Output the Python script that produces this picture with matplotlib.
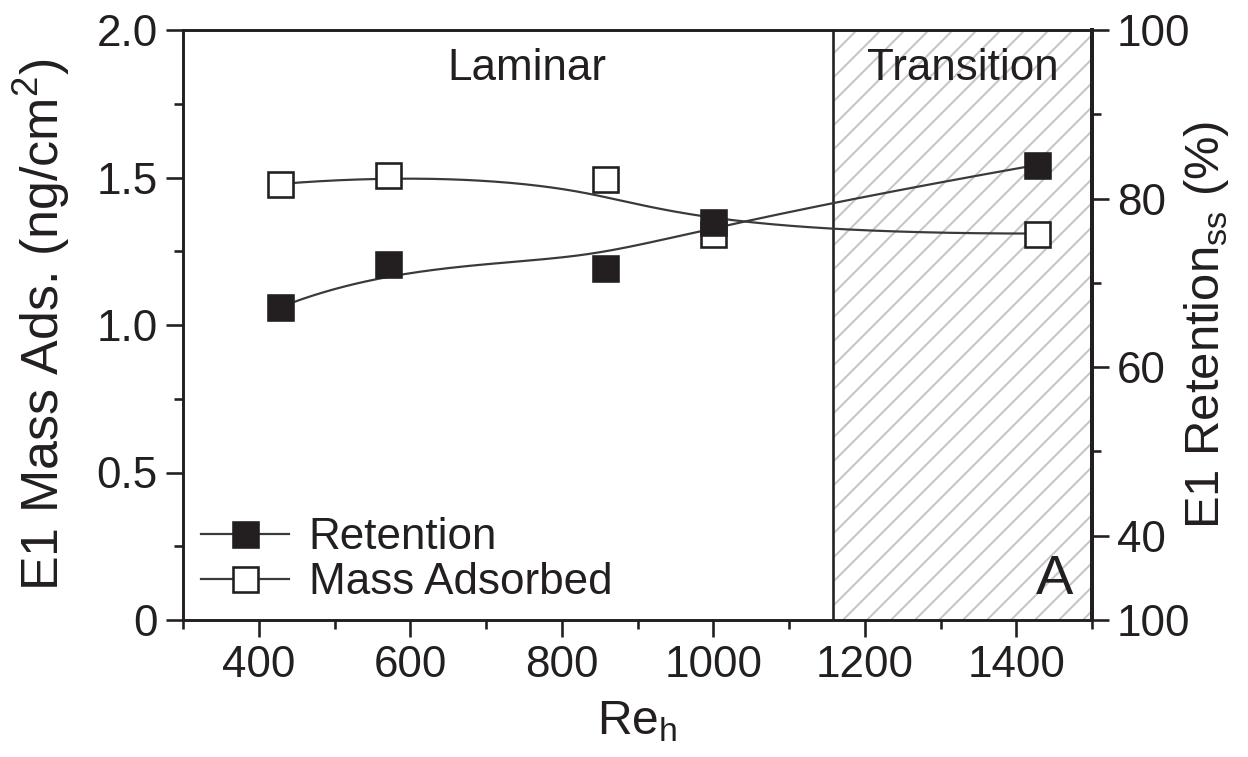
import numpy as np
import matplotlib
matplotlib.use("Agg")
import matplotlib.pyplot as plt
from matplotlib.ticker import FixedLocator, MultipleLocator, FixedFormatter
from matplotlib.lines import Line2D
from matplotlib.collections import LineCollection

# ---- data ----
re_h = [428, 571, 857, 1000, 1428]
mass_adsorbed = [1.478, 1.508, 1.495, 1.31, 1.31]      # ng/cm^2 (left axis)
retention = [67.1, 72.2, 71.8, 77.2, 84.0]             # % (right axis)
transition_start = 1158
x_ticks = [400, 600, 800, 1000, 1200, 1400]
left_ticks = [0, 0.5, 1.0, 1.5, 2.0]
left_labels = ["0", "0.5", "1.0", "1.5", "2.0"]
right_ticks = [30, 40, 60, 80, 100]
right_labels = ["100", "40", "60", "80", "100"]

plt.rcParams['font.family'] = ['Liberation Sans', 'DejaVu Sans']
plt.rcParams['mathtext.fontset'] = 'custom'
plt.rcParams['mathtext.rm'] = 'Liberation Sans'

TXT = '#231f20'
FS = 22


def bspline(px, py, n=300, k=3):
    px = np.asarray(px, float); py = np.asarray(py, float)
    m = len(px)
    knots = np.concatenate([[0.0] * k, np.linspace(0, 1, m - k + 1), [1.0] * k])
    t = np.linspace(0, 1, n)
    t[-1] = 1 - 1e-12
    B = np.zeros((n, len(knots) - 1))
    for i in range(len(knots) - 1):
        B[:, i] = (t >= knots[i]) & (t < knots[i + 1])
    for d in range(1, k + 1):
        Bn = np.zeros((n, len(knots) - 1 - d))
        for i in range(len(knots) - 1 - d):
            a = knots[i + d] - knots[i]
            b = knots[i + d + 1] - knots[i + 1]
            term = 0
            if a > 0:
                term = term + (t - knots[i]) / a * B[:, i]
            if b > 0:
                term = term + (knots[i + d + 1] - t) / b * B[:, i + 1]
            Bn[:, i] = term
        B = Bn
    return B @ px, B @ py


W, H = 1248, 757
L, R, T, Bt = 183, 1092, 30, 620
fig = plt.figure(figsize=(W / 144, H / 144), dpi=144)
ax = fig.add_axes([L / W, 1 - Bt / H, (R - L) / W, (Bt - T) / H])
ax2 = ax.twinx()

XMIN, XMAX, YMIN, YMAX = 300, 1500, 0, 2.0
ax.set_xlim(XMIN, XMAX)
ax.set_ylim(YMIN, YMAX)
ax2.set_ylim(30, 100)

# transition region with diagonal hatch
span = ax.axvspan(transition_start, XMAX, facecolor='white', edgecolor='none',
                  linewidth=0, zorder=0)
xpp = (XMAX - XMIN) / (R - L)      # data units per pixel (x)
ypp = (YMAX - YMIN) / (Bt - T)     # data units per pixel (y)
step = 24 * xpp
rise_dx = (Bt - T) * xpp
starts = np.arange(transition_start - rise_dx - step * 2, XMAX + step, step)
segs = [[(x0, YMIN), (x0 + rise_dx, YMAX)] for x0 in starts]
lc = LineCollection(segs, colors='#c6c6c6', linewidths=1.0, zorder=0.5)
ax.add_collection(lc)
lc.set_clip_path(span)
ax.axvline(transition_start, color=TXT, lw=1.3, zorder=1)

# curves
sx, sy = bspline(re_h, mass_adsorbed)
ax.plot(sx, sy, color='#3a3a3a', lw=1.1, zorder=2)
ax.plot(re_h, mass_adsorbed, ls='none', marker='s', ms=12.5, mfc='white',
        mec=TXT, mew=1.3, zorder=3)
rx, ry = bspline(re_h, retention)
ax2.plot(rx, ry, color='#3a3a3a', lw=1.1, zorder=2)
ax2.plot(re_h, retention, ls='none', marker='s', ms=12.5, mfc=TXT,
         mec=TXT, mew=1.3, zorder=3)

# ticks
for a in (ax, ax2):
    a.tick_params(which='major', direction='out', length=8.5, width=1.3,
                  labelsize=FS, colors=TXT, pad=4)
    a.tick_params(which='minor', direction='out', length=4.5, width=1.3, colors=TXT)
    for s in a.spines.values():
        s.set_linewidth(1.3)
        s.set_color(TXT)
ax2.spines['right'].set_linewidth(2.0)

ax.xaxis.set_major_locator(FixedLocator(x_ticks))
ax.xaxis.set_minor_locator(MultipleLocator(100))
ax.yaxis.set_major_locator(FixedLocator(left_ticks))
ax.yaxis.set_major_formatter(FixedFormatter(left_labels))
ax.yaxis.set_minor_locator(MultipleLocator(0.25))
ax2.yaxis.set_major_locator(FixedLocator(right_ticks))
ax2.yaxis.set_major_formatter(FixedFormatter(right_labels))
ax2.yaxis.set_minor_locator(FixedLocator([50, 70, 90]))

ax.set_xlabel(r'Re$_\mathregular{h}$', fontsize=24, color=TXT)
ax.xaxis.set_label_coords(0.5, -0.135)
ax.set_ylabel(r'E1 Mass Ads. (ng/cm$^\mathregular{2}$)', fontsize=26, color=TXT)
ax.yaxis.set_label_coords(-0.122, 0.5)
ax2.set_ylabel(r'E1 Retention$_\mathregular{ss}$ (%)', fontsize=24.5, color=TXT)
ax2.yaxis.set_label_coords(1.099, 0.5)

# annotations
ax.text(754, 1.87, 'Laminar', fontsize=FS, color=TXT, ha='center', va='center')
ax.text(1330, 1.87, 'Transition', fontsize=FS, color=TXT, ha='center', va='center')
ax.text(1451, 0.136, 'A', fontsize=28, color=TXT, ha='center', va='center')

# legend
h1 = Line2D([], [], color='#3a3a3a', lw=1.1, marker='s', ms=12.5, mfc=TXT, mec=TXT, mew=1.3)
h2 = Line2D([], [], color='#3a3a3a', lw=1.1, marker='s', ms=12.5, mfc='white', mec=TXT, mew=1.3)
leg = ax2.legend([h1, h2], ['Retention', 'Mass Adsorbed'], loc='lower left',
                 bbox_to_anchor=(0.0195, 0.028), frameon=False, fontsize=FS,
                 handlelength=2.0, handletextpad=0.45, labelspacing=0.1,
                 borderpad=0, borderaxespad=0)
for t in leg.get_texts():
    t.set_color(TXT)

fig.savefig('out.png', dpi=144)
